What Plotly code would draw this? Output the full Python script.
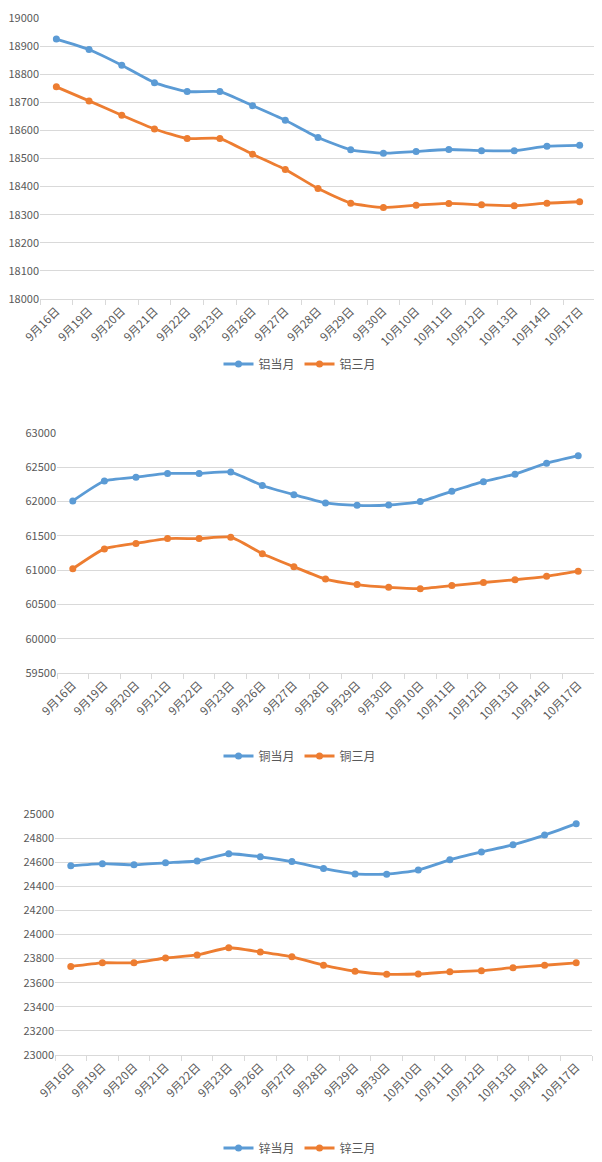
import plotly.graph_objects as go

dates = ["9月16日", "9月19日", "9月20日", "9月21日", "9月22日", "9月23日", "9月26日",
         "9月27日", "9月28日", "9月29日", "9月30日", "10月10日", "10月11日", "10月12日",
         "10月13日", "10月14日", "10月17日"]

al_cur = [18925, 18888, 18832, 18770, 18738, 18738, 18688, 18636, 18575, 18531,
          18519, 18525, 18532, 18528, 18528, 18544, 18547]
al_3m = [18755, 18705, 18654, 18605, 18571, 18571, 18515, 18461, 18393, 18341,
         18326, 18334, 18340, 18335, 18332, 18341, 18346]

cu_cur = [62010, 62300, 62355, 62410, 62410, 62430, 62235, 62100, 61980, 61945,
          61950, 62000, 62150, 62290, 62400, 62560, 62670]
cu_3m = [61020, 61310, 61390, 61460, 61460, 61480, 61240, 61050, 60870, 60790,
         60750, 60730, 60775, 60820, 60860, 60910, 60985]

zn_cur = [24570, 24588, 24578, 24595, 24610, 24670, 24645, 24605, 24548, 24503,
          24500, 24535, 24620, 24685, 24745, 24825, 24920]
zn_3m = [23735, 23765, 23765, 23805, 23830, 23890, 23855, 23815, 23745, 23695,
         23670, 23672, 23690, 23700, 23725, 23745, 23765]

names = [("铝当月", "铝三月"), ("铜当月", "铜三月"), ("锌当月", "锌三月")]
series = [(al_cur, al_3m), (cu_cur, cu_3m), (zn_cur, zn_3m)]
yranges = [(18000, 19000, 100), (59500, 63000, 500), (23000, 25000, 200)]

OFF = 8  # default page body margin
W, H = 602 - OFF, 1162 - OFF
# pixel layout in page coords: (left, right, top, bottom, legend_y)
boxes = [(40, 596, 18, 299, 364), (57, 594, 433, 673, 756), (55, 592, 814, 1055, 1148)]

BLUE = "#5B9BD5"
ORANGE = "#ED7D31"
FONT = "Noto Sans CJK SC"
TXT = "#595959"
GRID = "#D9D9D9"

fig = go.Figure()
layout = {}
for i in range(3):
    sfx = "" if i == 0 else str(i + 1)
    leg = "legend" + sfx
    for vals, nm, col in [(series[i][0], names[i][0], BLUE), (series[i][1], names[i][1], ORANGE)]:
        fig.add_trace(go.Scatter(
            x=dates, y=vals, name=nm, mode="lines+markers",
            line=dict(color=col, width=2.8, shape="spline", smoothing=0.5),
            marker=dict(color=col, size=7, symbol="circle"),
            xaxis="x" + sfx, yaxis="y" + sfx, legend=leg,
        ))
    l, r, t, b, ly = [v - OFF for v in boxes[i]]
    lo, hi, dt = yranges[i]
    layout["xaxis" + sfx] = dict(
        domain=[l / W, r / W], anchor="y" + sfx, type="category",
        tickson="boundaries", ticks="outside", ticklen=5, tickcolor=GRID,
        showgrid=False, showline=True, linecolor=GRID, linewidth=1,
        tickangle=-45, tickfont=dict(family=FONT, size=11.5, color=TXT),
        range=[-0.5, 16.5], fixedrange=True, automargin=False,
    )
    layout["yaxis" + sfx] = dict(
        domain=[1 - b / H, 1 - t / H], anchor="x" + sfx,
        range=[lo, hi], dtick=dt, tick0=lo, showgrid=True, gridcolor=GRID, gridwidth=1,
        zeroline=False, showline=False, ticks="", automargin=False,
        tickfont=dict(family=FONT, size=11, color=TXT), tickformat="d",
    )
    layout[leg] = dict(
        orientation="h", x=(300 - OFF) / W, xanchor="center", y=1 - ly / H, yanchor="middle",
        font=dict(family=FONT, size=12, color=TXT), bgcolor="rgba(0,0,0,0)",
        itemwidth=30, tracegroupgap=0,
    )

fig.update_layout(
    width=W, height=H, margin=dict(l=0, r=0, t=0, b=0, autoexpand=False),
    paper_bgcolor="white", plot_bgcolor="white", showlegend=True,
    **layout,
)
fig.write_html("out.html")
